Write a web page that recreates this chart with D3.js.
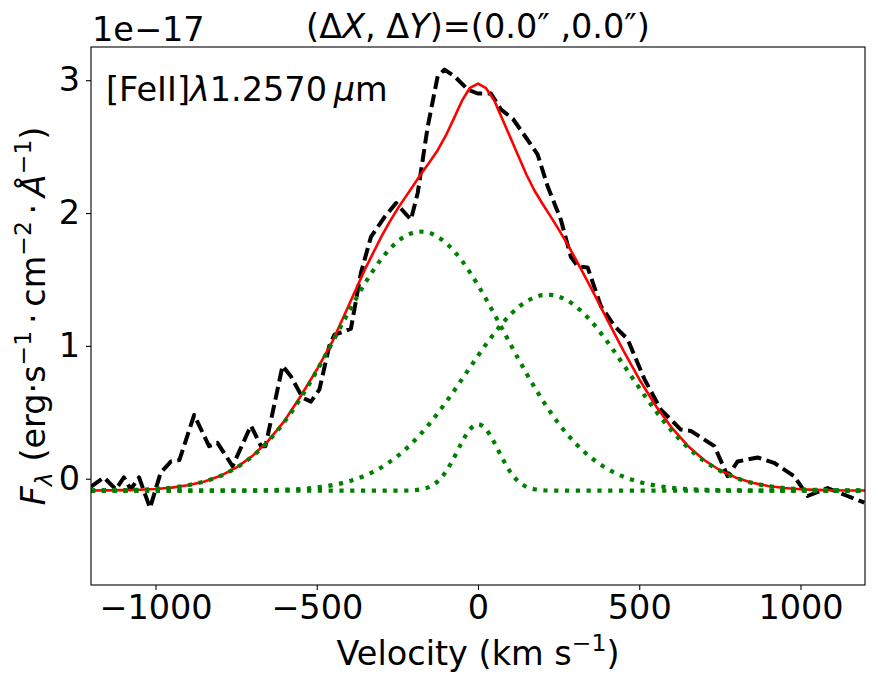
<!DOCTYPE html>
<html>
<head>
<meta charset="utf-8">
<script src="https://cdn.jsdelivr.net/npm/d3@7"></script>
<style>
    body { margin: 0; background: #fff; }
    svg text { font-family: "DejaVu Sans", sans-serif; fill: #000; }
</style>
</head>
<body>
<svg id="chart" width="878" height="685"></svg>
<script>
// Observed spectrum (dashed black), x = velocity (km/s), y = flux (1e-17)
const vObs = [-1200, -1160, -1123, -1098, -1077, -1051, -1017, -984, -952, -926,
              -880, -834, -808, -761, -704, -673, -659, -606, -580, -544,
              -518, -492, -461, -445, -414, -394, -363, -332, -290, -254,
              -208, -187, -156, -125, -104, -73, -32, -1, 40, 71,
              108, 154, 185, 216, 257, 288, 309, 340, 381, 423,
              464, 516, 567, 629, 660, 733, 774, 805, 867, 918,
              980, 1022, 1084, 1146, 1198];
const fObs = [-0.06, 0.01, -0.08, 0.01, -0.08, 0.01, -0.22, 0.045, 0.13, 0.14,
              0.48, 0.245, 0.27, 0.095, 0.40, 0.245, 0.245, 0.85, 0.77, 0.61,
              0.58, 0.67, 1.0, 1.085, 1.11, 1.13, 1.55, 1.82, 1.97, 2.075,
              1.95, 2.15, 2.65, 3.03, 3.08, 3.03, 2.93, 2.90, 2.90, 2.78,
              2.71, 2.55, 2.44, 2.20, 1.95, 1.67, 1.60, 1.59, 1.30, 1.15,
              1.05, 0.75, 0.52, 0.37, 0.36, 0.245, 0.02, 0.13, 0.16, 0.12,
              0.02, -0.13, -0.07, -0.13, -0.18];

// Model grid (velocity, km/s)
const vModel = [-1200, -1150, -1100, -1050, -1000, -950, -900, -850, -800, -750,
                -700, -650, -600, -550, -500, -450, -400, -350, -300, -275,
                -250, -225, -200, -175, -150, -125, -100, -75, -50, -25,
                0, 25, 50, 75, 100, 125, 150, 175, 200, 225,
                250, 275, 300, 350, 400, 450, 500, 550, 600, 650,
                700, 750, 800, 850, 900, 950, 1000, 1050, 1100, 1150, 1200];

// Total fit (red)
const fModel = [-0.089, -0.088, -0.086, -0.083, -0.077, -0.067, -0.049, -0.022, 0.020, 0.083,
                0.170, 0.287, 0.436, 0.621, 0.820, 1.040, 1.310, 1.580, 1.820, 1.930,
                2.030, 2.120, 2.210, 2.300, 2.384, 2.473, 2.582, 2.711, 2.844, 2.943,
                2.975, 2.940, 2.850, 2.710, 2.570, 2.430, 2.290, 2.170, 2.070, 1.975,
                1.877, 1.775, 1.666, 1.438, 1.201, 0.968, 0.749, 0.553, 0.386, 0.249,
                0.143, 0.064, 0.008, -0.030, -0.055, -0.070, -0.079, -0.084, -0.087, -0.089, -0.089];

// Gaussian components (green dotted)
const fComp1 = [-0.089, -0.088, -0.086, -0.083, -0.077, -0.067, -0.049, -0.022, 0.020, 0.082,
                0.168, 0.283, 0.429, 0.607, 0.811, 1.034, 1.260, 1.473, 1.653, 1.726,
                1.785, 1.827, 1.852, 1.860, 1.850, 1.821, 1.776, 1.716, 1.641, 1.554,
                1.457, 1.352, 1.242, 1.129, 1.015, 0.903, 0.794, 0.690, 0.592, 0.500,
                0.416, 0.340, 0.272, 0.160, 0.076, 0.017, -0.024, -0.051, -0.068, -0.078,
                -0.083, -0.087, -0.088, -0.089, -0.09, -0.09, -0.09, -0.09, -0.09, -0.09, -0.09];
const fComp2 = [-0.09, -0.09, -0.09, -0.09, -0.09, -0.09, -0.09, -0.09, -0.09, -0.089,
                -0.088, -0.086, -0.083, -0.077, -0.066, -0.048, -0.019, 0.024, 0.085, 0.125,
                0.170, 0.221, 0.280, 0.344, 0.415, 0.492, 0.574, 0.659, 0.748, 0.837,
                0.926, 1.012, 1.093, 1.168, 1.235, 1.291, 1.334, 1.365, 1.382, 1.384,
                1.371, 1.345, 1.304, 1.188, 1.035, 0.862, 0.684, 0.514, 0.363, 0.237,
                0.136, 0.061, 0.006, -0.031, -0.055, -0.070, -0.079, -0.084, -0.087, -0.089, -0.089];
const fComp3 = [-0.09, -0.09, -0.09, -0.09, -0.09, -0.09, -0.09, -0.09, -0.09, -0.09,
                -0.09, -0.09, -0.09, -0.09, -0.09, -0.09, -0.09, -0.09, -0.09, -0.09,
                -0.09, -0.089, -0.087, -0.079, -0.061, -0.020, 0.052, 0.156, 0.275, 0.372,
                0.410, 0.372, 0.275, 0.156, 0.052, -0.020, -0.061, -0.079, -0.087, -0.089,
                -0.09, -0.09, -0.09, -0.09, -0.09, -0.09, -0.09, -0.09, -0.09, -0.09,
                -0.09, -0.09, -0.09, -0.09, -0.09, -0.09, -0.09, -0.09, -0.09, -0.09, -0.09];

const xTicks = [-1000, -500, 0, 500, 1000];
const yTicks = [0, 1, 2, 3];

const W = 878, H = 685;
const margin = { top: 47, right: 13, bottom: 100, left: 91 };
const FS = 33.5;

const svg = d3.select('#chart');

const x = d3.scaleLinear().domain([-1200, 1200]).range([margin.left, W - margin.right]);
const y = d3.scaleLinear().domain([-0.8, 3.25]).range([H - margin.bottom, margin.top]);

svg.append('defs').append('clipPath').attr('id', 'plotClip')
    .append('rect')
    .attr('x', margin.left).attr('y', margin.top)
    .attr('width', W - margin.left - margin.right)
    .attr('height', H - margin.top - margin.bottom);

const plot = svg.append('g').attr('clip-path', 'url(#plotClip)');

const line = d3.line().x(d => x(d[0])).y(d => y(d[1]));
const zip = (a, b) => a.map((v, i) => [v, b[i]]);

// observed
plot.append('path')
    .datum(zip(vObs, fObs))
    .attr('d', line)
    .attr('fill', 'none')
    .attr('stroke', '#000')
    .attr('stroke-width', 4)
    .attr('stroke-dasharray', '13,5.5')
    .attr('stroke-linejoin', 'round');

// total fit
plot.append('path')
    .datum(zip(vModel, fModel))
    .attr('d', line)
    .attr('fill', 'none')
    .attr('stroke', '#ff0000')
    .attr('stroke-width', 2.6)
    .attr('stroke-linejoin', 'round');

// components
const smooth = d3.line().curve(d3.curveMonotoneX).x(d => x(d[0])).y(d => y(d[1]));
[fComp1, fComp2, fComp3].forEach(comp => {
    plot.append('path')
        .datum(zip(vModel, comp))
        .attr('d', smooth)
        .attr('fill', 'none')
        .attr('stroke', '#008000')
        .attr('stroke-width', 4.2)
        .attr('stroke-dasharray', '4.2,6.6');
});

// axes
const xAxis = svg.append('g')
    .attr('transform', `translate(0,${H - margin.bottom})`)
    .call(d3.axisBottom(x).tickValues(xTicks).tickSize(5).tickPadding(5).tickFormat(d3.format('d')));
const yAxis = svg.append('g')
    .attr('transform', `translate(${margin.left},0)`)
    .call(d3.axisLeft(y).tickValues(yTicks).tickSize(5).tickPadding(6).tickFormat(d3.format('d')));

[xAxis, yAxis].forEach(g => {
    g.select('.domain').remove();
    g.selectAll('.tick line').attr('stroke', '#000').attr('stroke-width', 1.1);
    g.selectAll('.tick text').attr('font-size', FS).attr('font-family', '"DejaVu Sans", sans-serif');
});

// frame
svg.append('rect')
    .attr('x', margin.left).attr('y', margin.top)
    .attr('width', W - margin.left - margin.right)
    .attr('height', H - margin.top - margin.bottom)
    .attr('fill', 'none').attr('stroke', '#000').attr('stroke-width', 1.1);

// rich text helper: parts with optional italic / sup / sub
function rich(sel, parts, size) {
    let shift = 0;
    parts.forEach(p => {
        const target = p.sup ? -0.42 * size : p.sub ? 0.22 * size : 0;
        const ts = sel.append('tspan').text(p.t).attr('dy', target - shift);
        if (p.sup || p.sub) ts.attr('font-size', size * 0.7);
        if (p.it) ts.attr('font-style', 'italic');
        shift = target;
    });
}

// offset text
svg.append('text').attr('x', margin.left + 1).attr('y', 41)
    .attr('font-size', FS).text('1e\u221217');

// title
const title = svg.append('text').attr('x', 478).attr('y', 38)
    .attr('text-anchor', 'middle').attr('font-size', FS);
rich(title, [
    { t: '(\u0394' }, { t: 'X', it: true }, { t: ', \u0394' }, { t: 'Y', it: true },
    { t: ')=(0.0\u2033 ,0.0\u2033)' }
], FS);

// line label
const lab = svg.append('text').attr('x', 106).attr('y', 101).attr('font-size', FS);
rich(lab, [
    { t: '[FeII]' }, { t: '\u03bb', it: true }, { t: '1.2570\u2009' }, { t: '\u03bc', it: true }, { t: 'm' }
], FS);

// x label
const xl = svg.append('text').attr('x', 478).attr('y', 665)
    .attr('text-anchor', 'middle').attr('font-size', FS);
rich(xl, [{ t: 'Velocity (km s' }, { t: '\u22121', sup: true }, { t: ')' }], FS);

// y label
const yl = svg.append('text')
    .attr('transform', `translate(45,${(margin.top + H - margin.bottom) / 2}) rotate(-90)`)
    .attr('text-anchor', 'middle').attr('font-size', FS);
rich(yl, [
    { t: 'F', it: true }, { t: '\u03bb', it: true, sub: true },
    { t: ' (erg\u00b7s' }, { t: '\u22121', sup: true },
    { t: '\u2009\u00b7\u2009cm' }, { t: '\u22122', sup: true },
    { t: '\u2009\u00b7\u2009' }, { t: '\u00c5', it: true }, { t: '\u22121', sup: true },
    { t: ')' }
], FS);
</script>
</body>
</html>
